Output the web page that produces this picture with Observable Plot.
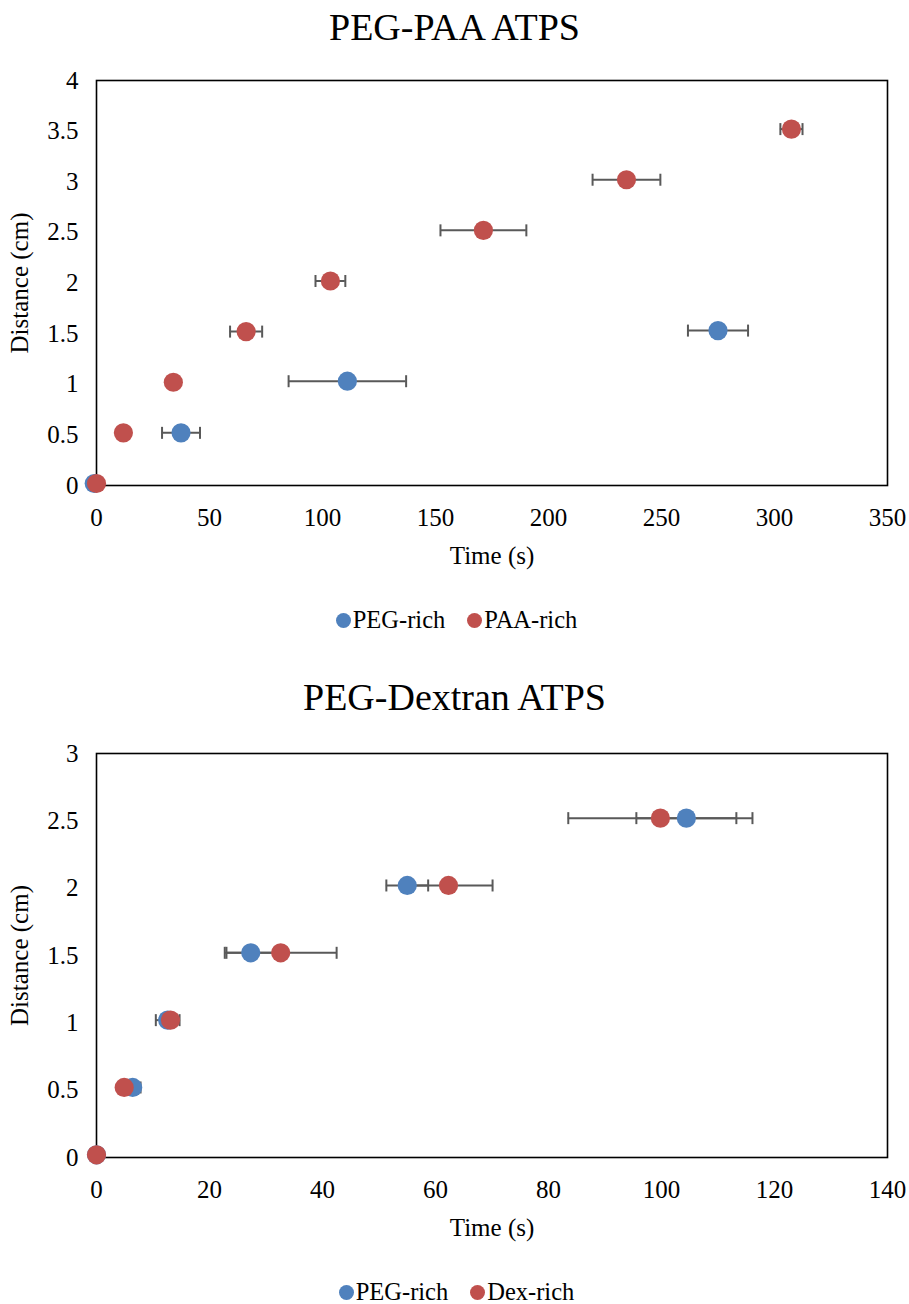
<!DOCTYPE html>
<html>
<head>
<meta charset="utf-8">
<script src="https://cdn.jsdelivr.net/npm/d3@7"></script>
<script src="https://cdn.jsdelivr.net/npm/@observablehq/plot@0.6"></script>
<style>
  html, body { margin: 0; padding: 0; background: #fff; }
  body { width: 909px; height: 1304px; position: relative; font-family: "Liberation Serif", "Times New Roman", serif; color: #000; }
  .title { position: absolute; left: 0; width: 909px; height: 55px; line-height: 55px; text-align: center; font-size: 38px; }
  .chart { position: absolute; left: 0; width: 909px; }
  .legend { position: absolute; left: 0; width: 909px; height: 40px; display: flex; justify-content: center; align-items: center; gap: 22px; font-size: 24.5px; padding-left: 4px; box-sizing: border-box; }
  .legend .item { display: flex; align-items: center; gap: 2px; }
  .legend .sw { width: 15px; height: 15px; border-radius: 50%; display: inline-block; }
</style>
</head>
<body>
<div class="title" style="top:0px">PEG-PAA ATPS</div>
<div class="chart" id="c1" style="top:55px"></div>
<div class="legend" id="l1" style="top:600px"></div>
<div class="title" style="top:670px">PEG-Dextran ATPS</div>
<div class="chart" id="c2" style="top:725px"></div>
<div class="legend" id="l2" style="top:1272px"></div>
<script>
// ---------- Chart 1: PEG-PAA ATPS ----------
const paaPegTime = [-1, 37.4, 111, 275];
const paaPegDist = [0.02, 0.52, 1.03, 1.53];
const paaPegErr  = [0, 8.4, 26, 13.3];

const paaRichTime = [0, 11.9, 34, 66.2, 103.5, 171.2, 234.5, 307.5];
const paaRichDist = [0.02, 0.52, 1.02, 1.52, 2.02, 2.52, 3.02, 3.52];
const paaRichErr  = [0, 0, 0, 7.1, 6.6, 19, 15, 4.9];

const xTicks1 = [0, 50, 100, 150, 200, 250, 300, 350];
const yTicks1 = [0, 0.5, 1, 1.5, 2, 2.5, 3, 3.5, 4];
const legend1 = ["PEG-rich", "PAA-rich"];

// ---------- Chart 2: PEG-Dextran ATPS ----------
const dexPegTime = [0, 6.4, 12.6, 27.3, 55, 104.4];
const dexPegDist = [0.02, 0.52, 1.02, 1.52, 2.02, 2.52];
const dexPegErr  = [0, 1.4, 2.1, 4.3, 3.7, 8.85];

const dexRichTime = [0, 4.9, 13.1, 32.6, 62.3, 99.8];
const dexRichDist = [0.02, 0.52, 1.02, 1.52, 2.02, 2.52];
const dexRichErr  = [0, 0, 0.5, 9.9, 7.8, 16.3];

const xTicks2 = [0, 20, 40, 60, 80, 100, 120, 140];
const yTicks2 = [0, 0.5, 1, 1.5, 2, 2.5, 3];
const legend2 = ["PEG-rich", "Dex-rich"];

const BLUE = "#4F81BD";
const RED = "#C0504D";
const ERR = "#595959";

const capSymbol = {
  draw(context) {
    context.moveTo(0, -6);
    context.lineTo(0, 6);
  }
};

function rows(t, d, e, s) {
  return t.map((v, i) => ({t: v, d: d[i], e: e[i], s}));
}

function makeChart(series, xDomain, yDomain, xTicks, yTicks, height, marginTop, marginBottom) {
  const all = series.flatMap(s => s.data);
  const withErr = all.filter(r => r.e > 0);
  const caps = withErr.flatMap(r => [{t: r.t - r.e, d: r.d}, {t: r.t + r.e, d: r.d}]);
  return Plot.plot({
    width: 909,
    height,
    marginTop,
    marginBottom,
    marginLeft: 96,
    marginRight: 22,
    style: {fontFamily: "Liberation Serif, Times New Roman, serif", fontSize: "25px", color: "#000", background: "#fff", overflow: "visible"},
    x: {domain: xDomain},
    y: {domain: yDomain},
    marks: [
      Plot.frame({stroke: "#000", strokeWidth: 1.6}),
      Plot.axisX({ticks: xTicks, tickSize: 0, tickPadding: 23, tickFormat: d => String(d),
        label: "Time (s)", labelAnchor: "center", labelOffset: 78, labelArrow: "none"}),
      Plot.axisY({ticks: yTicks, tickSize: 0, tickPadding: 18, tickFormat: d => String(d),
        label: "Distance (cm)", labelAnchor: "center", labelOffset: 86, labelArrow: "none"}),
      Plot.ruleY(withErr, {y: "d", x1: r => r.t - r.e, x2: r => r.t + r.e, stroke: ERR, strokeWidth: 2}),
      Plot.dot(caps, {x: "t", y: "d", symbol: capSymbol, stroke: ERR, strokeWidth: 2, fill: "none", r: 6}),
      ...series.map(s => Plot.dot(s.data, {x: "t", y: "d", r: 9.6, fill: s.color, stroke: "none"}))
    ]
  });
}

function makeLegend(el, names, colors) {
  names.forEach((n, i) => {
    const item = document.createElement("span");
    item.className = "item";
    const sw = document.createElement("span");
    sw.className = "sw";
    sw.style.background = colors[i];
    const tx = document.createElement("span");
    tx.textContent = n;
    item.appendChild(sw);
    item.appendChild(tx);
    el.appendChild(item);
  });
}

document.getElementById("c1").appendChild(makeChart(
  [{data: rows(paaPegTime, paaPegDist, paaPegErr, legend1[0]), color: BLUE},
   {data: rows(paaRichTime, paaRichDist, paaRichErr, legend1[1]), color: RED}],
  [0, 350], [0, 4], xTicks1, yTicks1, 520, 25, 90));
makeLegend(document.getElementById("l1"), legend1, [BLUE, RED]);

document.getElementById("c2").appendChild(makeChart(
  [{data: rows(dexPegTime, dexPegDist, dexPegErr, legend2[0]), color: BLUE},
   {data: rows(dexRichTime, dexRichDist, dexRichErr, legend2[1]), color: RED}],
  [0, 140], [0, 3], xTicks2, yTicks2, 522, 28, 90));
makeLegend(document.getElementById("l2"), legend2, [BLUE, RED]);
</script>
</body>
</html>
